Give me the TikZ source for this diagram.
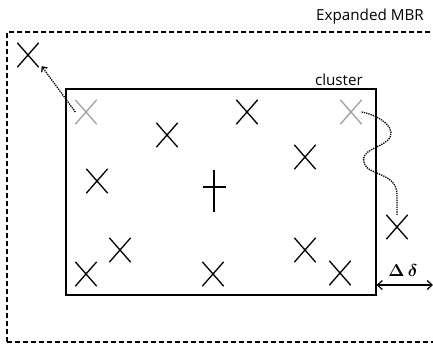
\documentclass[tikz,border=0pt]{standalone}
\usepackage{fontspec}
\setmainfont{Open Sans}
\usetikzlibrary{shapes.misc,arrows.meta}
\begin{document}
\begin{tikzpicture}[x=1pt,y=-1pt,
  xmark/.style={cross out,draw,line width=1.3pt,minimum width=20pt,minimum height=23pt,inner sep=0pt},
  gmark/.style={xmark,draw=gray!75},
  dotline/.style={densely dotted,line width=1.3pt},
  lbl/.style={font=\fontsize{15.2}{17}\selectfont,inner sep=0pt}]
\useasboundingbox (0,0) rectangle (433,343);
% expanded MBR (dashed)
\draw[line width=1.6pt,dash pattern=on 5pt off 3pt] (7,342) -- (7,32) -- (440,32);
\draw[line width=1.2pt,dash pattern=on 5pt off 3pt] (7,342) -- (440,342);
\node[lbl,anchor=east] (mbr) at (424,17) {Expanded MBR};
% cluster
\node[draw,line width=2pt,minimum width=310pt,minimum height=206pt,inner sep=0pt] (cluster) at (220.5,192) {};
\node[lbl,anchor=south east] (clab) at (363,86) {cluster};
% marks
\node[xmark] (x0) at (28,55) {};
\node[gmark] (g1) at (86,112) {};
\node[xmark] (x2) at (247,112) {};
\node[gmark] (g2) at (351,112) {};
\node[xmark] (x3) at (167,135) {};
\node[xmark] (x4) at (305,157) {};
\node[xmark] (x5) at (97,181) {};
\node[xmark] (x6) at (120,250) {};
\node[xmark] (x7) at (86,274) {};
\node[xmark] (x8) at (213,274) {};
\node[xmark] (x9) at (305,250) {};
\node[xmark] (x10) at (340,273) {};
\node[xmark] (x11) at (397,227) {};
% centroid
\coordinate (c) at (214,187);
\draw[line width=1.3pt] ([xshift=-11.5pt]c) -- ([xshift=11.5pt]c)
  ([yshift=17pt]c) -- ([yshift=-25pt]c);
% dotted arrow to outside point
\draw[dotline,-{Straight Barb[length=4pt,width=7pt]}] (g1.west) -- ([shift={(3pt,1pt)}]x0.south east);
% wavy dotted path
\draw[dotline] (g2.east) .. controls (382,116) and (398,130) .. (388,140)
  .. controls (380,148) and (360,150) .. (364,163)
  .. controls (368,176) and (397,172) .. (397,195) -- (x11.north);
% delta
\coordinate (dend) at (433,285);
\draw[line width=1.2pt,{Straight Barb[length=5pt,width=9pt]}-{Straight Barb[length=5pt,width=9pt]}] (cluster.east |- dend) -- (dend);
\node[font=\fontsize{19}{21}\selectfont\boldmath,inner sep=0pt] (dl) at (403,270) {$\Delta\,\delta$};
\end{tikzpicture}
\end{document}
